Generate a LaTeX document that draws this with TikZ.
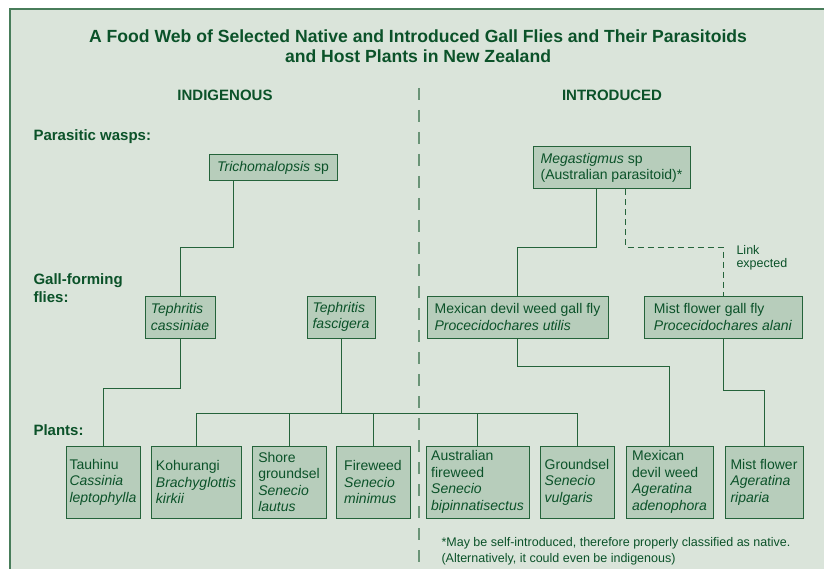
\documentclass[tikz,border=0pt]{standalone}
\usepackage{fontspec}
\setmainfont{Liberation Sans}
\usetikzlibrary{positioning}
\definecolor{webbg}{HTML}{DAE4DA}
\definecolor{boxfill}{HTML}{B7CDBB}
\definecolor{webgreen}{HTML}{0B5229}
\definecolor{webline}{HTML}{24633A}
\definecolor{divider}{HTML}{6A9477}

\begin{document}
\begin{tikzpicture}[x=1pt,y=-1pt,
    every node/.style={text=webgreen},
    sp/.style={draw=webline,fill=boxfill,line width=1pt,align=left,inner sep=0pt,font=\fontsize{14}{16.5}\selectfont},
    link/.style={draw=webline,line width=1pt},
    lvl/.style={anchor=west,align=left,font=\fontsize{15}{18}\selectfont\bfseries}]
        \useasboundingbox (0,0) rectangle (824,569);
        \fill[webbg] (10,9) rectangle (824,569);
        \draw[webline!80!webbg,line width=1.3pt] (10,569) -- (10,9) -- (824,9);
        \node[font=\fontsize{17.6}{20}\selectfont\bfseries,align=center] (title) at (418,46) {A Food Web of Selected Native and Introduced Gall Flies and Their Parasitoids\\and Host Plants in New Zealand};
        \node[font=\fontsize{15}{18}\selectfont\bfseries] (ind) at (225,95) {INDIGENOUS};
        \node[font=\fontsize{15}{18}\selectfont\bfseries] (intro) at (612,95) {INTRODUCED};
        \draw[divider,line width=2pt,dash pattern=on 12pt off 10pt] (419,88) -- (419,569);
        % levels
        \node[lvl] (lwasp) at (30,137) {Parasitic wasps:};
        \node[lvl] (lfly) at (30,288) {Gall-forming\\flies:};
        \node[lvl] (lplant) at (30,430) {Plants:};
        % parasitoids
        \node[sp,minimum width=128pt,minimum height=26pt] (tri) at (273,168) {\textit{Trichomalopsis} sp};
        \node[sp,minimum width=157pt,minimum height=42pt] (meg) at (611.5,168) {\textit{Megastigmus} sp\\(Australian parasitoid)*};
        % gall flies
        \node[sp,minimum width=70pt,minimum height=42pt] (cas) at (180,317) {\textit{Tephritis}\\\textit{cassiniae}};
        \node[sp,minimum width=68pt,minimum height=42pt] (fas) at (341,317) {\textit{Tephritis}\\\textit{fascigera}};
        \node[sp,minimum width=181pt,minimum height=42pt] (mexfly) at (517.5,317) {Mexican devil weed gall fly\\\textit{Procecidochares utilis}};
        \node[sp,minimum width=158pt,minimum height=42pt] (mistfly) at (723,317) {Mist flower gall fly\\\textit{Procecidochares alani}};
        % plants
        \node[sp,minimum width=74pt,minimum height=72pt] (tau) at (103,482) {Tauhinu\\\textit{Cassinia}\\\textit{leptophylla}};
        \node[sp,minimum width=90pt,minimum height=72pt] (koh) at (196,482) {Kohurangi\\\textit{Brachyglottis}\\\textit{kirkii}};
        \node[sp,minimum width=74pt,minimum height=72pt] (sho) at (289,482) {Shore\\groundsel\\\textit{Senecio}\\\textit{lautus}};
        \node[sp,minimum width=74pt,minimum height=72pt] (fir) at (373,482) {Fireweed\\\textit{Senecio}\\\textit{minimus}};
        \node[sp,minimum width=103pt,minimum height=72pt] (aus) at (477.5,482) {Australian\\fireweed\\\textit{Senecio}\\\textit{bipinnatisectus}};
        \node[sp,minimum width=74pt,minimum height=72pt] (gro) at (577,482) {Groundsel\\\textit{Senecio}\\\textit{vulgaris}};
        \node[sp,minimum width=87pt,minimum height=72pt] (mex) at (669.5,482) {Mexican\\devil weed\\\textit{Ageratina}\\\textit{adenophora}};
        \node[sp,minimum width=78pt,minimum height=72pt] (mis) at (764,482) {Mist flower\\\textit{Ageratina}\\\textit{riparia}};
        % links
        \draw[link] ([xshift=25pt]tri.south west) -- ++(0,66) -| (cas.north);
        \draw[link] ([xshift=64pt]meg.south west) -- ++(0,58) -| (mexfly.north);
        \draw[link,dash pattern=on 6pt off 4pt] ([xshift=93pt]meg.south west) -- ++(0,58) -| (mistfly.north);
        \node[anchor=west,align=left,font=\fontsize{12.5}{13.5}\selectfont] (lnk) at (733,258) {Link\\expected};
        \draw[link] (cas.south) -- ++(0,50) -| (tau.north);
        \draw[link] (fas.south) -- ++(0,75) coordinate (fj);
        \draw[link] (koh.north) |- (fj) -| (gro.north);
        \foreach \p in {sho,fir,aus} {\draw[link] (\p.north) -- (\p.north |- fj);}
        \draw[link] (mexfly.south) -- ++(0,28) -| (mex.north);
        \draw[link] (mistfly.south) -- ++(0,52) -| (mis.north);
        \node[anchor=west,align=left,font=\fontsize{12.5}{16}\selectfont] (note) at (438,551) {*May be self-introduced, therefore properly classified as native.\\(Alternatively, it could even be indigenous)};
      \end{tikzpicture}
\end{document}
